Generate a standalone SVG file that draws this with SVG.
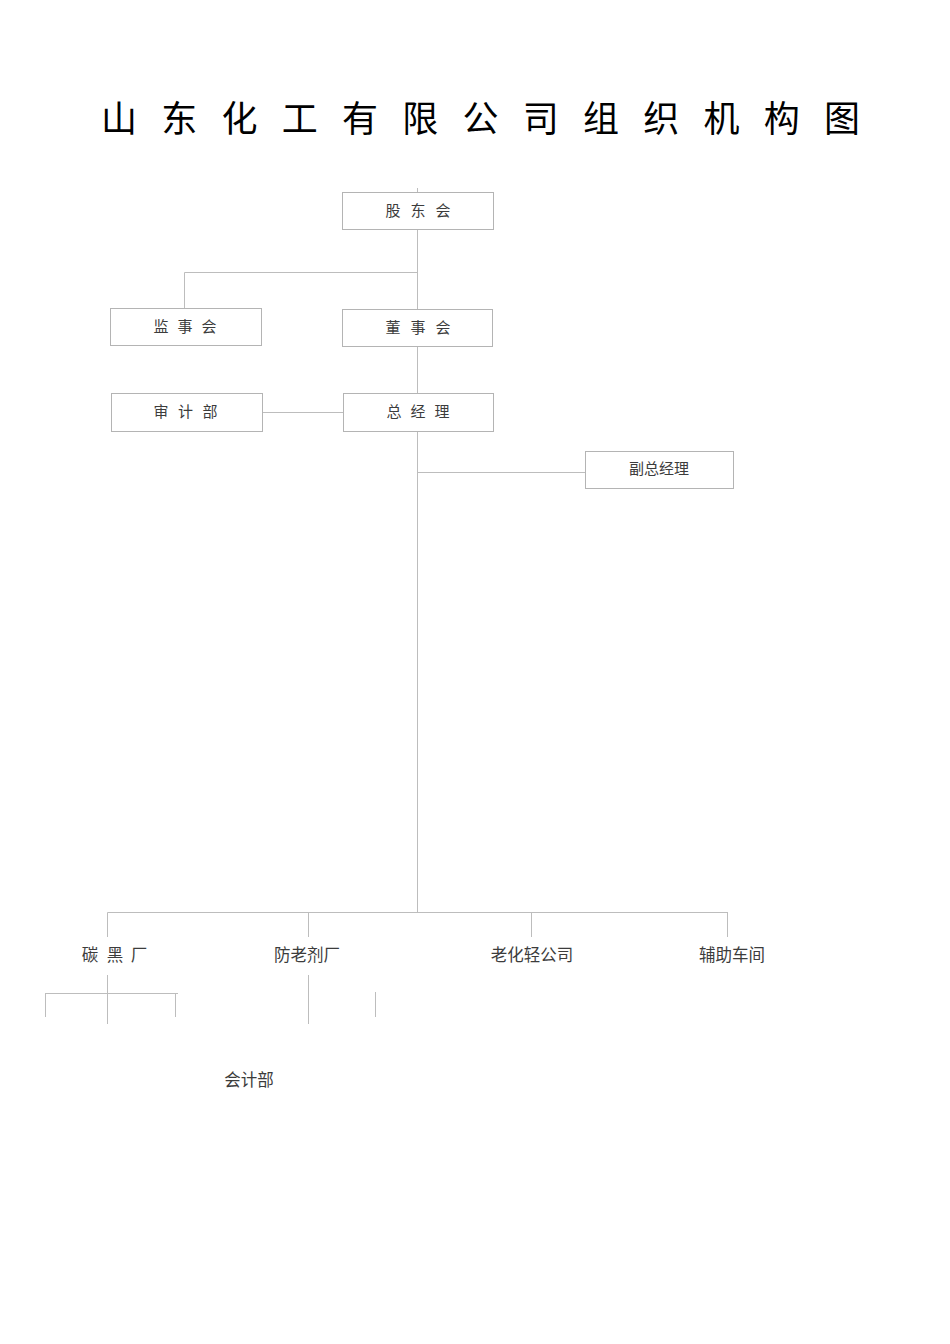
<svg xmlns="http://www.w3.org/2000/svg" width="950" height="1344" viewBox="0 0 950 1344">
<style>
.box{fill:#fff;stroke:#b4b4b4;stroke-width:1}
.ln{stroke:#bdbdbd;stroke-width:1;fill:none}
.lbl{font-family:"Noto Sans CJK SC","Noto Sans CJK JP",sans-serif;font-size:15px;fill:#3c3c3c;text-anchor:middle;dominant-baseline:central}
.big{font-size:16.5px}
.title{font-family:"Noto Sans CJK SC","Noto Sans CJK JP",sans-serif;font-size:36px;fill:#000;text-anchor:middle}
</style>
<rect width="950" height="1344" fill="#fff"/>
<text class="title" x="119 179.3 239.5 299.8 360 420.3 480.5 540.8 601 661.3 721.5 781.8 842" y="132">山东化工有限公司组织机构图</text>
<g id="connectors">
<line class="ln" x1="417.5" y1="188" x2="417.5" y2="912.5"/>
<polyline class="ln" points="184.5,308 184.5,272.5 417.5,272.5"/>
<line class="ln" x1="262" y1="412.5" x2="343" y2="412.5"/>
<line class="ln" x1="417.5" y1="472.5" x2="585" y2="472.5"/>
<line class="ln" x1="107.5" y1="912.5" x2="728" y2="912.5"/>
<line class="ln" x1="107.5" y1="912.5" x2="107.5" y2="937"/>
<line class="ln" x1="308.5" y1="912.5" x2="308.5" y2="937"/>
<line class="ln" x1="531.5" y1="912.5" x2="531.5" y2="937"/>
<line class="ln" x1="727.5" y1="912.5" x2="727.5" y2="937"/>
<line class="ln" x1="107.5" y1="975" x2="107.5" y2="1024"/>
<line class="ln" x1="45" y1="993.5" x2="178" y2="993.5"/>
<line class="ln" x1="45.5" y1="993.5" x2="45.5" y2="1017"/>
<line class="ln" x1="175.5" y1="993.5" x2="175.5" y2="1017"/>
<line class="ln" x1="308.5" y1="975" x2="308.5" y2="1024"/>
<line class="ln" x1="375.5" y1="992" x2="375.5" y2="1017"/>
</g>
<g id="gudonghui"><rect class="box" x="342.5" y="192.5" width="151" height="37"/><text class="lbl" x="393 418 443" y="209">股东会</text></g>
<g id="jianshihui"><rect class="box" x="110.5" y="308.5" width="151" height="37"/><text class="lbl" x="161 185 209" y="325">监事会</text></g>
<g id="dongshihui"><rect class="box" x="342.5" y="309.5" width="150" height="37"/><text class="lbl" x="393 418 443" y="326">董事会</text></g>
<g id="shenjibu"><rect class="box" x="111.5" y="393.5" width="151" height="38"/><text class="lbl" x="161 185.5 210" y="410">审计部</text></g>
<g id="zongjingli"><rect class="box" x="343.5" y="393.5" width="150" height="38"/><text class="lbl" x="394 418 442" y="410">总经理</text></g>
<g id="fuzongjingli"><rect class="box" x="585.5" y="451.5" width="148" height="37"/><text class="lbl" x="659" y="467">副总经理</text></g>
<g id="tanheichang"><text class="lbl big" x="90 115 139" y="954">碳黑厂</text></g>
<g id="fanglaojichang"><text class="lbl big" x="307" y="954">防老剂厂</text></g>
<g id="laohuaqing"><text class="lbl big" x="532" y="954">老化轻公司</text></g>
<g id="fuzhuchejian"><text class="lbl big" x="732" y="954">辅助车间</text></g>
<g id="kuaijibu"><text class="lbl big" x="249" y="1079">会计部</text></g>
</svg>
